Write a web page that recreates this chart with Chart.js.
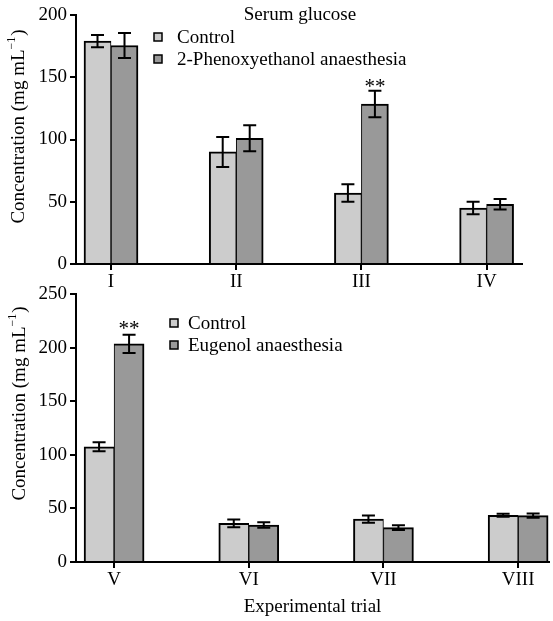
<!DOCTYPE html>
<html><head><meta charset="utf-8">
<script src="https://cdn.jsdelivr.net/npm/chart.js@4.4.0/dist/chart.umd.min.js"></script>
<style>
html,body{margin:0;padding:0;background:#fff;}
#wrap{position:relative;width:553px;height:621px;overflow:hidden;background:#fff;}
#c1{position:absolute;left:0;top:0;}
#c2{position:absolute;left:0;top:270px;}
</style></head><body>
<div id="wrap">
<canvas id="c1" width="553" height="300"></canvas>
<canvas id="c2" width="553" height="351"></canvas>
</div>
<script>
const FONT = "'Liberation Serif', 'Times New Roman', serif";

// ---- Panel 1: 2-Phenoxyethanol ----
const categories1 = ['I', 'II', 'III', 'IV'];
const control1 = [179, 90, 57, 45];
const control1Err = [5, 12, 7, 5];
const phenox1 = [175.5, 101, 128.5, 48];
const phenox1Err = [10, 10.5, 10.7, 4.3];
const sig1 = ['', '', '**', ''];
const yMax1 = 200;
const panelTitle1 = 'Serum glucose';
const legend1 = ['Control', '2-Phenoxyethanol anaesthesia'];

// ---- Panel 2: Eugenol ----
const categories2 = ['V', 'VI', 'VII', 'VIII'];
const control2 = [107.5, 36, 40, 43.6];
const control2Err = [4.2, 3.7, 3.3, 1.5];
const eugenol2 = [203.5, 34.5, 32, 43.3];
const eugenol2Err = [8.6, 2.5, 2.2, 2];
const sig2 = ['**', '', '', ''];
const yMax2 = 250;
const legend2 = ['Control', 'Eugenol anaesthesia'];

const yStep = 50;
const yTitleMain = 'Concentration (mg mL';
const yTitleSup = '\u22121';
const yTitleEnd = ')';
const xTitle = 'Experimental trial';

const COL_CTRL = '#cccccc';
const COL_TRT = '#999999';

function makePanel(cfg) {
  const toXY = (arr) => arr.map((v, i) => ({ x: i + 1, y: v }));
  const decor = {
    id: 'decor' + cfg.id,
    afterDatasetsDraw(chart) {
      const ctx = chart.ctx, ys = chart.scales.y;
      ctx.save();
      ctx.strokeStyle = '#000';
      ctx.lineWidth = 2;
      chart.data.datasets.forEach((ds, d) => {
        const meta = chart.getDatasetMeta(d);
        meta.data.forEach((bar, i) => {
          const v = ds.data[i].y, e = ds.errors[i];
          const yt = ys.getPixelForValue(v + e), yb = ys.getPixelForValue(v - e);
          const x = bar.x, hw = 6.5;
          ctx.beginPath();
          ctx.moveTo(x, yt); ctx.lineTo(x, yb);
          ctx.moveTo(x - hw, yt); ctx.lineTo(x + hw, yt);
          ctx.moveTo(x - hw, yb); ctx.lineTo(x + hw, yb);
          ctx.stroke();
          if (ds.sig && ds.sig[i]) {
            ctx.fillStyle = '#000';
            ctx.font = '21px ' + FONT;
            ctx.textAlign = 'center';
            ctx.textBaseline = 'alphabetic';
            ctx.fillText(ds.sig[i], x, yt + cfg.sigOffset);
          }
        });
      });
      ctx.restore();
    },
    afterDraw(chart) {
      const ctx = chart.ctx;
      ctx.save();
      ctx.fillStyle = '#000';
      ctx.font = '19px ' + FONT;
      ctx.textBaseline = 'middle';
      if (cfg.title) {
        ctx.textAlign = 'center';
        ctx.fillText(cfg.title, cfg.titleX, cfg.titleY);
      }
      // legend
      chart.data.datasets.forEach((ds, d) => {
        const yy = cfg.legY + d * 22;
        ctx.fillStyle = ds.backgroundColor;
        ctx.fillRect(cfg.legBoxX, yy - 4, 8, 8);
        ctx.strokeStyle = '#000';
        ctx.lineWidth = 1.5;
        ctx.strokeRect(cfg.legBoxX, yy - 4, 8, 8);
        ctx.fillStyle = '#000';
        ctx.textAlign = 'left';
        ctx.fillText(ds.label, cfg.legTextX, yy + 1);
      });
      // y axis title with superscript
      ctx.translate(cfg.yTitleX, cfg.yTitleY);
      ctx.rotate(-Math.PI / 2);
      const fMain = '19px ' + FONT, fSup = '12px ' + FONT;
      ctx.font = fMain;
      const w1 = ctx.measureText(yTitleMain).width;
      const w3 = ctx.measureText(yTitleEnd).width;
      ctx.font = fSup;
      const w2 = ctx.measureText(yTitleSup).width;
      let x0 = -(w1 + w2 + w3) / 2;
      ctx.textAlign = 'left';
      ctx.textBaseline = 'alphabetic';
      ctx.font = fMain;
      ctx.fillText(yTitleMain, x0, 6);
      ctx.font = fSup;
      ctx.fillText(yTitleSup, x0 + w1, -3);
      ctx.font = fMain;
      ctx.fillText(yTitleEnd, x0 + w1 + w2 + 1, 6);
      ctx.restore();
    }
  };

  return new Chart(document.getElementById(cfg.id), {
    type: 'bar',
    data: {
      datasets: [
        { label: cfg.legend[0], data: toXY(cfg.ctrl), errors: cfg.ctrlErr,
          backgroundColor: COL_CTRL, borderColor: '#000',
          borderWidth: { left: 2, top: 2, right: 1, bottom: 0 }, barThickness: cfg.barW },
        { label: cfg.legend[1], data: toXY(cfg.trt), errors: cfg.trtErr, sig: cfg.sig,
          backgroundColor: COL_TRT, borderColor: '#000',
          borderWidth: { left: 1, top: 2, right: 2, bottom: 0 }, barThickness: cfg.barW }
      ]
    },
    options: {
      responsive: false,
      animation: false,
      events: [],
      layout: { padding: cfg.padding },
      plugins: { legend: { display: false }, title: { display: false }, tooltip: { enabled: false } },
      scales: {
        x: {
          type: 'linear',
          offset: false,
          min: cfg.xMin, max: cfg.xMax,
          afterBuildTicks: (s) => { s.ticks = cfg.cats.map((c, i) => ({ value: i + 1 })); },
          afterFit: (s) => { s.height = cfg.xHeight; },
          ticks: { autoSkip: false, padding: 1, color: '#000', font: { family: FONT, size: 19 },
                   callback: (v) => cfg.cats[Math.round(v) - 1] },
          grid: { offset: false, drawOnChartArea: false, drawTicks: true, tickLength: 6, color: '#000', lineWidth: 2 },
          border: { display: true, color: '#000', width: 2 },
          title: cfg.xTitle ? { display: true, text: cfg.xTitle, color: '#000',
                   font: { family: FONT, size: 19 }, padding: { top: 0, bottom: 3 } } : { display: false }
        },
        y: {
          min: 0, max: cfg.yMax,
          afterFit: (s) => { s.width = 76; },
          ticks: { stepSize: yStep, padding: 3, color: '#000', font: { family: FONT, size: 19 } },
          grid: { drawOnChartArea: false, drawTicks: true, tickLength: 6, color: '#000', lineWidth: 2 },
          border: { display: true, color: '#000', width: 2 }
        }
      }
    },
    plugins: [decor]
  });
}

makePanel({
  id: 'c1', cats: categories1, ctrl: control1, ctrlErr: control1Err, trt: phenox1, trtErr: phenox1Err,
  sig: sig1, yMax: yMax1, legend: legend1, title: panelTitle1, titleX: 300, titleY: 15,
  legBoxX: 154, legTextX: 177, legY: 37, yTitleX: 18, yTitleY: 127,
  padding: { top: 15, right: 31, left: 0, bottom: 0 }, xHeight: 36,
  xMin: 0.7204, xMax: 4.2827, barW: 27, sigOffset: 2
});

makePanel({
  id: 'c2', cats: categories2, ctrl: control2, ctrlErr: control2Err, trt: eugenol2, trtErr: eugenol2Err,
  sig: sig2, yMax: yMax2, legend: legend2, title: null,
  legBoxX: 170, legTextX: 188, legY: 53, yTitleX: 19, yTitleY: 134,
  padding: { top: 24, right: 4, left: 0, bottom: 0 }, xHeight: 59, xTitle: xTitle,
  xMin: 0.7173, xMax: 4.2292, barW: 30, sigOffset: 0
});
</script>
</body></html>
